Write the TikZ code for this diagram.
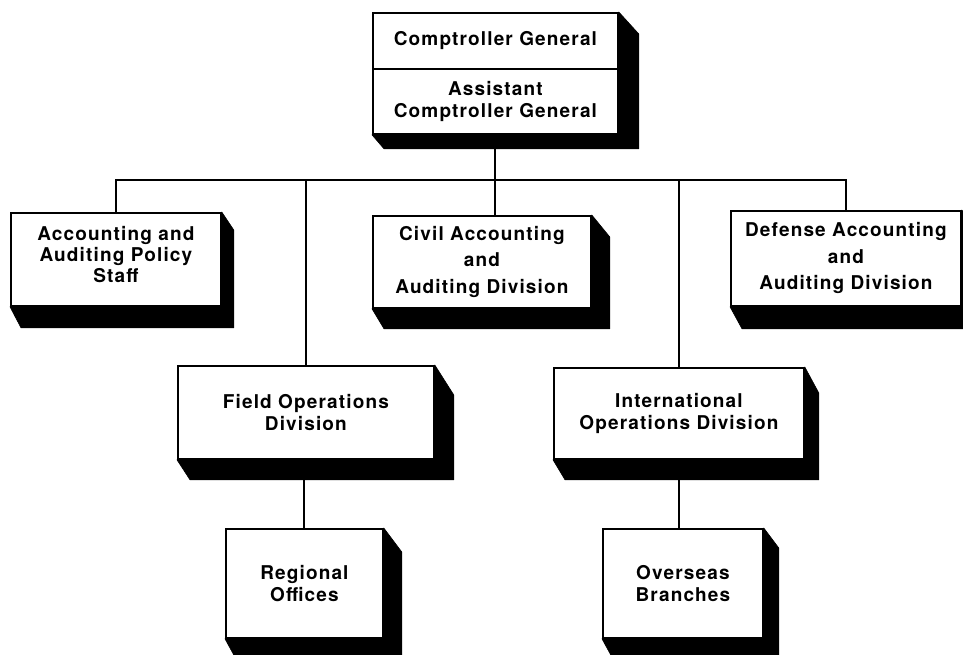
\documentclass[tikz,border=0pt]{standalone}
\usepackage{fontspec}
\setmainfont{TeX Gyre Heros}
\newfontfamily\orgfont[LetterSpace=6]{TeX Gyre Heros}
\usetikzlibrary{calc,backgrounds}

\tikzset{
  orgbox/.style={draw, line width=1.8pt, fill=white, inner sep=0pt,
    align=center, anchor=north west,
    font=\orgfont\bfseries\fontsize{19}{22.5}\selectfont},
  widelines/.style={font=\orgfont\bfseries\fontsize{19}{26.5}\selectfont},
  tightlines/.style={font=\orgfont\bfseries\fontsize{19}{21}\selectfont},
  link/.style={line width=1.9pt},
  solid shade/.style={fill=black, draw=black, line width=0.6pt, line join=round},
}

% block shading below and to the right of a box (top node, bottom node,
% right depth, drop of the upper bevel, bottom depth, shift of the lower bevel)
\newcommand\orgshadow[6]{%
  \path[solid shade] (#1.north east) -- ($(#1.north east)+(#3,#4)$)
    -- ($(#2.south east)+(#3,#5)$) -- ($(#2.south west)+(#6,#5)$)
    -- (#2.south west) -- (#2.south east) -- cycle;}

\begin{document}
\begin{tikzpicture}[x=1pt, y=-1pt]
  \useasboundingbox (0,0) rectangle (963,654);
  \clip (0,0) rectangle (963,654);

  % boxes
  \node[orgbox, minimum width=245, minimum height=56] (cg) at (372,12)
    {Comptroller General};
  \node[orgbox, minimum width=245, minimum height=65] (acg) at (372,68)
    {Assistant\\Comptroller General};
  \node[orgbox, tightlines, minimum width=210, minimum height=93] (pol) at (10,212)
    {Accounting and\\Auditing Policy\\Staff\\[-12pt]};
  \node[orgbox, widelines, minimum width=218, minimum height=92] (civ) at (372,215)
    {Civil Accounting\\and\\Auditing Division};
  \node[orgbox, widelines, minimum width=230, minimum height=95] (def) at (730,210)
    {Defense Accounting\\and\\Auditing Division};
  \node[orgbox, minimum width=256, minimum height=93] (fld) at (177,365)
    {Field Operations\\Division};
  \node[orgbox, minimum width=250, minimum height=91] (intl) at (553,367)
    {International\\Operations Division};
  \node[orgbox, minimum width=157, minimum height=109] (reg) at (225,528)
    {Regional\\Offices};
  \node[orgbox, minimum width=160, minimum height=109] (ovs) at (602,528)
    {Overseas\\Branches};

  % block shading
  \orgshadow{cg}{acg}{20}{22}{14}{12}
  \orgshadow{pol}{pol}{12}{18}{21}{11}
  \orgshadow{civ}{civ}{18}{22}{20}{12}
  \orgshadow{def}{def}{18}{22}{22}{12}
  \orgshadow{fld}{fld}{19}{30}{20}{13}
  \orgshadow{intl}{intl}{14}{26}{20}{12}
  \orgshadow{reg}{reg}{18}{24}{22}{12}
  \orgshadow{ovs}{ovs}{15}{20}{22}{12}

  % connectors
  \begin{scope}[on background layer]
    \coordinate (bus) at (0,180);
    \draw[link] (acg.south) -- (acg.south |- bus);
    \draw[link] (pol.north) |- (def.north |- bus) -- (def.north);
    \draw[link] (fld.north) -- (fld.north |- bus);
    \draw[link] (acg.south |- civ.north) -- (acg.south |- bus);
    \draw[link] (intl.north) -- (intl.north |- bus);
    \draw[link] (reg.north) -- (reg.north |- fld.south);
    \draw[link] (ovs.north -| intl.south) -- (intl.south);
  \end{scope}
\end{tikzpicture}
\end{document}
